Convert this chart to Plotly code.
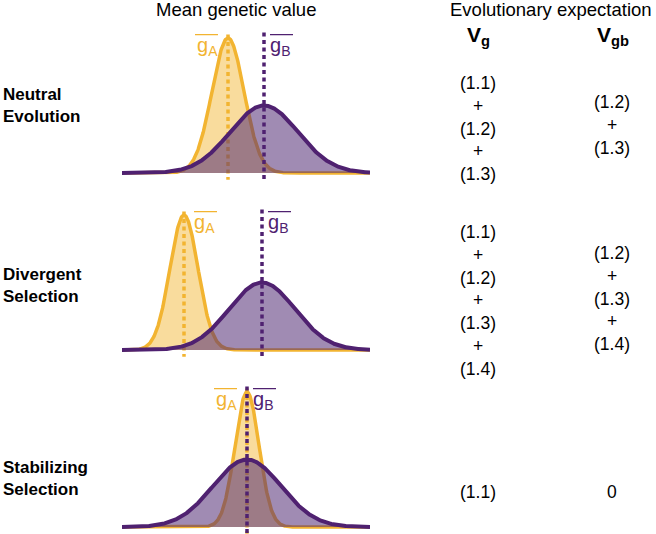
import numpy as np
import plotly.graph_objects as go

# ---------------- data ----------------
scenarios = ["Neutral<br>Evolution", "Divergent<br>Selection", "Stabilizing<br>Selection"]
mean_A = [10.6, 6.2, 12.5]      # mean genetic value, population A
mean_B = [14.2, 14.0, 12.5]     # mean genetic value, population B
sd_A = [1.6, 1.4, 1.2]
sd_B = [3.4, 3.3, 3.4]
peak_A = [1.0, 1.0, 1.0]
peak_B = [0.5, 0.5, 0.5]
label_side_A = ["left", "right", "left"]
vg_terms = [["(1.1)", "+", "(1.2)", "+", "(1.3)"],
            ["(1.1)", "+", "(1.2)", "+", "(1.3)", "+", "(1.4)"],
            ["(1.1)"]]
vgb_terms = [["(1.2)", "+", "(1.3)"],
             ["(1.2)", "+", "(1.3)", "+", "(1.4)"],
             ["0"]]
col_titles = ["Mean genetic value", "Evolutionary expectation"]

# ---------------- style ----------------
W, H = 656, 534
YEL = "#F2B431"
YEL_FILL = "rgba(244,185,60,0.50)"
PUR = "#4F2170"
PUR_FILL = "rgba(80,40,115,0.54)"
FONT = "Liberation Sans, Arial, sans-serif"
X_RANGE = [0, 24.8]
Y_RANGE = [-0.05, 1.08]
baselines_px = [173, 350, 527]
PX_PER_Y = 135.0

def px(x):
    return x / W

def py(y):
    return 1 - y / H

fig = go.Figure()
x = np.linspace(X_RANGE[0], X_RANGE[1], 600)

layout_axes = {}
shapes = []
annotations = []

for i in range(3):
    n = "" if i == 0 else str(i + 1)
    xa, ya = "x" + n, "y" + n
    b = baselines_px[i]
    bottom_px = b - Y_RANGE[0] * PX_PER_Y
    top_px = b - Y_RANGE[1] * PX_PER_Y
    layout_axes["xaxis" + n] = dict(domain=[px(122), px(370)], range=X_RANGE, visible=False,
                                    anchor=ya, fixedrange=True)
    layout_axes["yaxis" + n] = dict(domain=[py(bottom_px), py(top_px)], range=Y_RANGE, visible=False,
                                    anchor=xa, fixedrange=True)

    yA = peak_A[i] * np.exp(-0.5 * ((x - mean_A[i]) / sd_A[i]) ** 2)
    yB = peak_B[i] * np.exp(-0.5 * ((x - mean_B[i]) / sd_B[i]) ** 2)

    fig.add_trace(go.Scatter(x=x, y=yA, xaxis=xa, yaxis=ya, mode="lines", fill="tozeroy",
                             fillcolor=YEL_FILL, line=dict(color=YEL, width=3.5), hoverinfo="skip",
                             showlegend=False))
    fig.add_trace(go.Scatter(x=[mean_A[i], mean_A[i]], y=[-0.06, 1.04], xaxis=xa, yaxis=ya, mode="lines",
                             line=dict(color=YEL, width=3.5, dash="4px,3.5px"), hoverinfo="skip",
                             showlegend=False))
    fig.add_trace(go.Scatter(x=x, y=yB, xaxis=xa, yaxis=ya, mode="lines", fill="tozeroy",
                             fillcolor=PUR_FILL, line=dict(color=PUR, width=4), hoverinfo="skip",
                             showlegend=False))
    fig.add_trace(go.Scatter(x=[mean_B[i], mean_B[i]], y=[-0.045, 1.04], xaxis=xa, yaxis=ya, mode="lines",
                             line=dict(color=PUR, width=3.5, dash="4px,3.5px"), hoverinfo="skip",
                             showlegend=False))

    # g-bar labels
    if label_side_A[i] == "left":
        a_anchor, a_shift, a_x0, a_x1 = "right", -8, -33, -10
    else:
        a_anchor, a_shift, a_x0, a_x1 = "left", 8, 10, 33
    annotations.append(dict(x=mean_A[i], y=0.94, xref=xa, yref=ya, text="g<sub>A</sub>",
                            showarrow=False, xanchor=a_anchor, yanchor="middle", xshift=a_shift,
                            font=dict(family=FONT, size=20, color=YEL)))
    annotations.append(dict(x=mean_B[i], y=0.94, xref=xa, yref=ya, text="g<sub>B</sub>",
                            showarrow=False, xanchor="left", yanchor="middle", xshift=4,
                            font=dict(family=FONT, size=20, color=PUR)))
    shapes.append(dict(type="line", xref=xa, yref=ya, xsizemode="pixel", xanchor=mean_A[i],
                       x0=a_x0, x1=a_x1, y0=1.025, y1=1.025, line=dict(color=YEL, width=1.3)))
    shapes.append(dict(type="line", xref=xa, yref=ya, xsizemode="pixel", xanchor=mean_B[i],
                       x0=6, x1=29, y0=1.025, y1=1.025, line=dict(color=PUR, width=1.3)))

    # row label
    row_centers = [105, 285, 478]
    annotations.append(dict(x=px(1), y=py(row_centers[i]), xref="paper", yref="paper",
                            text="<b>" + scenarios[i] + "</b>", showarrow=False, xanchor="left",
                            yanchor="middle", align="left",
                            font=dict(family=FONT, size=17, color="black")))

    # expectation columns
    vg_centers = [128, 300.5, 492]
    vgb_centers = [125.5, 298.5, 492]
    annotations.append(dict(x=px(478), y=py(vg_centers[i]), xref="paper", yref="paper",
                            text="<br>".join(vg_terms[i]), showarrow=False, xanchor="center",
                            yanchor="middle", align="center",
                            font=dict(family=FONT, size=17.5, color="black")))
    annotations.append(dict(x=px(612), y=py(vgb_centers[i]), xref="paper", yref="paper",
                            text="<br>".join(vgb_terms[i]), showarrow=False, xanchor="center",
                            yanchor="middle", align="center",
                            font=dict(family=FONT, size=17.5, color="black")))

# column titles
annotations.append(dict(x=px(236), y=py(9), xref="paper", yref="paper", text=col_titles[0],
                        showarrow=False, xanchor="center", yanchor="middle",
                        font=dict(family=FONT, size=18.5, color="black")))
annotations.append(dict(x=px(551), y=py(9), xref="paper", yref="paper", text=col_titles[1],
                        showarrow=False, xanchor="center", yanchor="middle",
                        font=dict(family=FONT, size=18.5, color="black")))
annotations.append(dict(x=px(478), y=py(36), xref="paper", yref="paper", text="<b>V<sub>g</sub></b>",
                        showarrow=False, xanchor="center", yanchor="middle",
                        font=dict(family=FONT, size=21, color="black")))
annotations.append(dict(x=px(613), y=py(36), xref="paper", yref="paper", text="<b>V<sub>gb</sub></b>",
                        showarrow=False, xanchor="center", yanchor="middle",
                        font=dict(family=FONT, size=21, color="black")))

fig.update_layout(width=W, height=H, margin=dict(l=0, r=0, t=0, b=0),
                  paper_bgcolor="white", plot_bgcolor="rgba(0,0,0,0)",
                  showlegend=False, shapes=shapes, annotations=annotations, **layout_axes)

fig.write_html("out.html", config={"displayModeBar": False},
               post_script="document.body.style.margin='0px';document.body.style.overflow='hidden';")
